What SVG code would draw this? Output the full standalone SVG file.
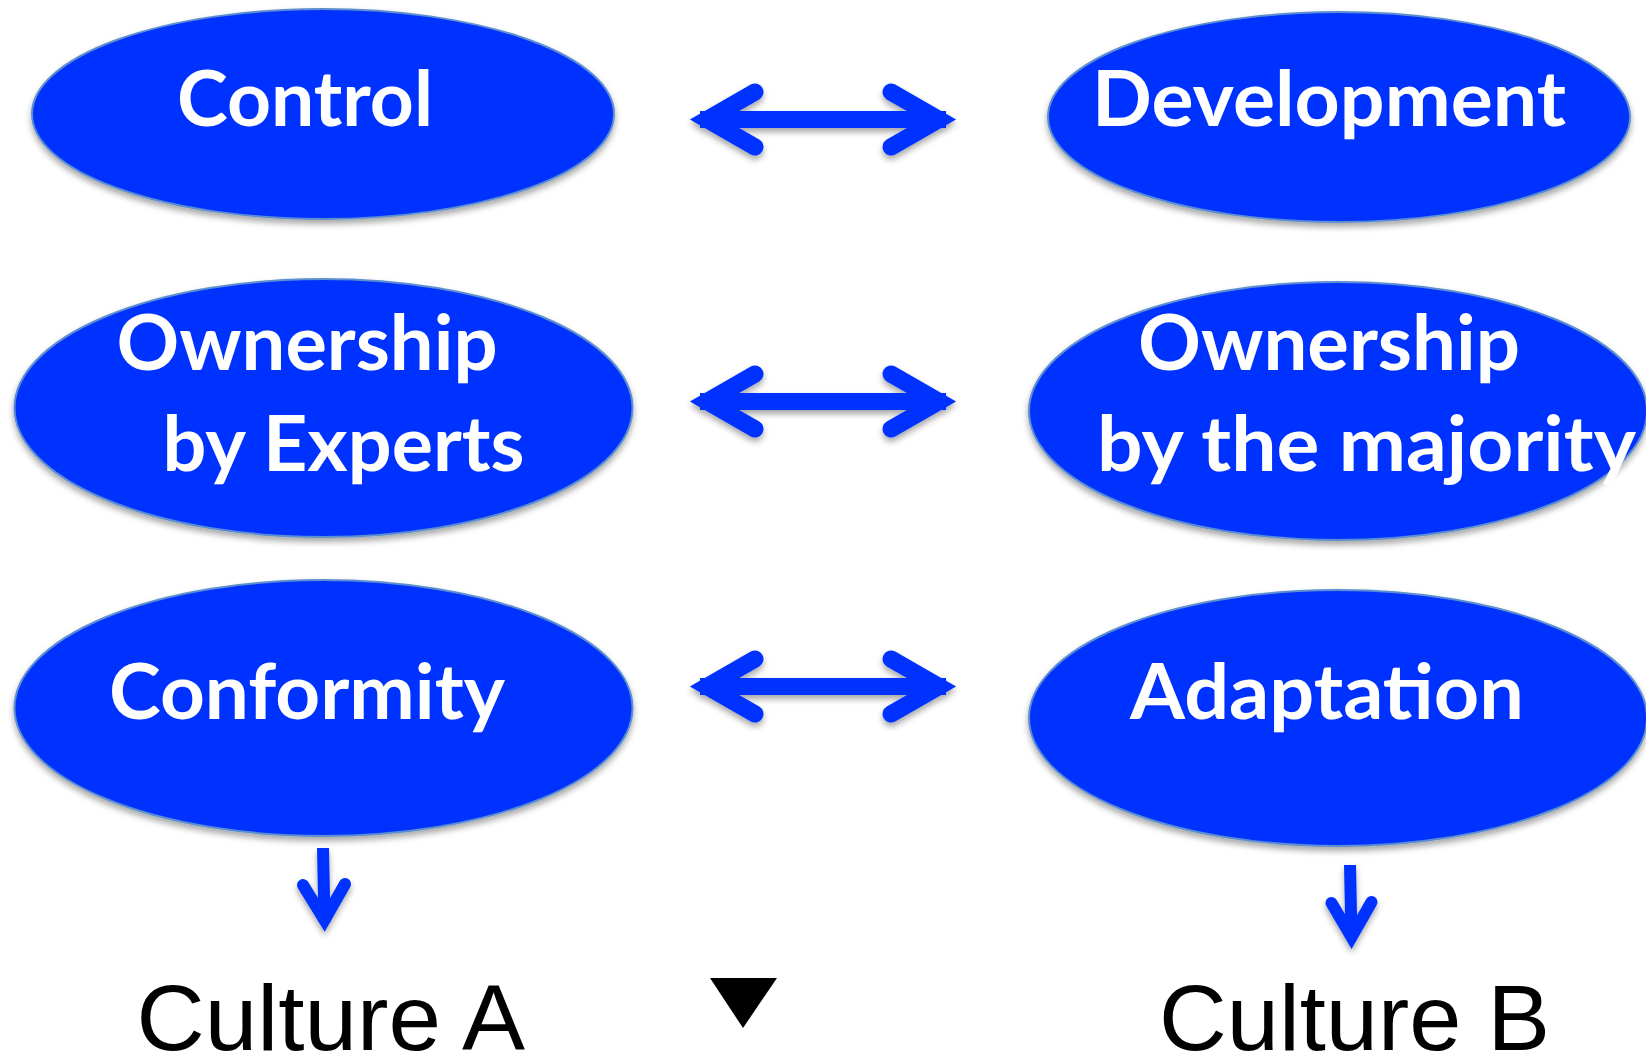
<svg xmlns="http://www.w3.org/2000/svg" width="1646" height="1057" viewBox="0 0 1646 1057">
<defs>
<filter id="sh" x="-10%" y="-10%" width="120%" height="130%">
<feDropShadow dx="0" dy="4" stdDeviation="3" flood-color="#000" flood-opacity="0.35"/>
</filter>
<style>
.node ellipse{fill:#0433ff;stroke:#5d8fd0;stroke-width:2;filter:url(#sh)}
.lbl{font-family:Lato,"Open Sans","Noto Sans",sans-serif;font-weight:700;font-size:77px;fill:#fff}
.cult{font-family:"Liberation Sans",Arial,sans-serif;font-size:92px;fill:#000}
.arr{fill:none;stroke:#0433ff;stroke-linejoin:miter;stroke-miterlimit:10}
.arr .h{stroke-width:17}
.arr .w{stroke-linecap:round}
.dn{stroke-width:12}
</style>
</defs>
<rect width="1646" height="1057" fill="#fff"/>

<g id="connectors" filter="url(#sh)">
<g class="arr">
<path class="h" d="M700,119.5 H946"/>
<path class="h w" d="M755,92 L707,119.5 L755,147"/>
<path class="h w" d="M891,92 L939,119.5 L891,147"/>
<path class="h" d="M700,401.5 H946"/>
<path class="h w" d="M755,374 L707,401.5 L755,429"/>
<path class="h w" d="M891,374 L939,401.5 L891,429"/>
<path class="h" d="M700,686.5 H946"/>
<path class="h w" d="M755,659 L707,686.5 L755,714"/>
<path class="h w" d="M891,659 L939,686.5 L891,714"/>
<path class="dn" d="M323,848 L324.5,922"/>
<path class="dn w" d="M303,885 L324.5,920 L345,884"/>
<path class="dn" d="M1350,865 L1351.5,938"/>
<path class="dn w" d="M1331.5,903 L1351.5,937 L1371.5,902"/>
</g>
</g>

<g id="n-control" class="node">
<ellipse cx="323" cy="114" rx="291" ry="105"/>
<text class="lbl" x="177" y="126" textLength="256" lengthAdjust="spacingAndGlyphs">Control</text>
</g>
<g id="n-development" class="node">
<ellipse cx="1339" cy="117" rx="291" ry="105"/>
<text class="lbl" x="1092" y="126" textLength="474" lengthAdjust="spacingAndGlyphs">Development</text>
</g>
<g id="n-experts" class="node">
<ellipse cx="323.5" cy="408" rx="309" ry="129"/>
<text class="lbl" x="116.5" y="370" textLength="381" lengthAdjust="spacingAndGlyphs">Ownership</text>
<text class="lbl" x="162.5" y="471" textLength="362" lengthAdjust="spacingAndGlyphs">by Experts</text>
</g>
<g id="n-majority" class="node">
<ellipse cx="1338" cy="411" rx="309" ry="129"/>
<text class="lbl" x="1138" y="370" textLength="382" lengthAdjust="spacingAndGlyphs">Ownership</text>
<text class="lbl" x="1097" y="471" textLength="539" lengthAdjust="spacingAndGlyphs">by the majority</text>
</g>
<g id="n-conformity" class="node">
<ellipse cx="323.5" cy="708" rx="309" ry="128"/>
<text class="lbl" x="109" y="719" textLength="396" lengthAdjust="spacingAndGlyphs">Conformity</text>
</g>
<g id="n-adaptation" class="node">
<ellipse cx="1338" cy="718" rx="309" ry="128"/>
<text class="lbl" x="1130" y="719" textLength="394" lengthAdjust="spacingAndGlyphs">Adaptation</text>
</g>
<g id="n-culture-a">
<text class="cult" x="136.5" y="1050" textLength="388.5" lengthAdjust="spacingAndGlyphs">Culture A</text>
</g>
<g id="n-culture-b">
<text class="cult" x="1159" y="1050" textLength="391" lengthAdjust="spacingAndGlyphs">Culture B</text>
</g>
<g id="marker-triangle">
<polygon points="710,978 777,978 743,1028" fill="#000"/>
</g>
</svg>
